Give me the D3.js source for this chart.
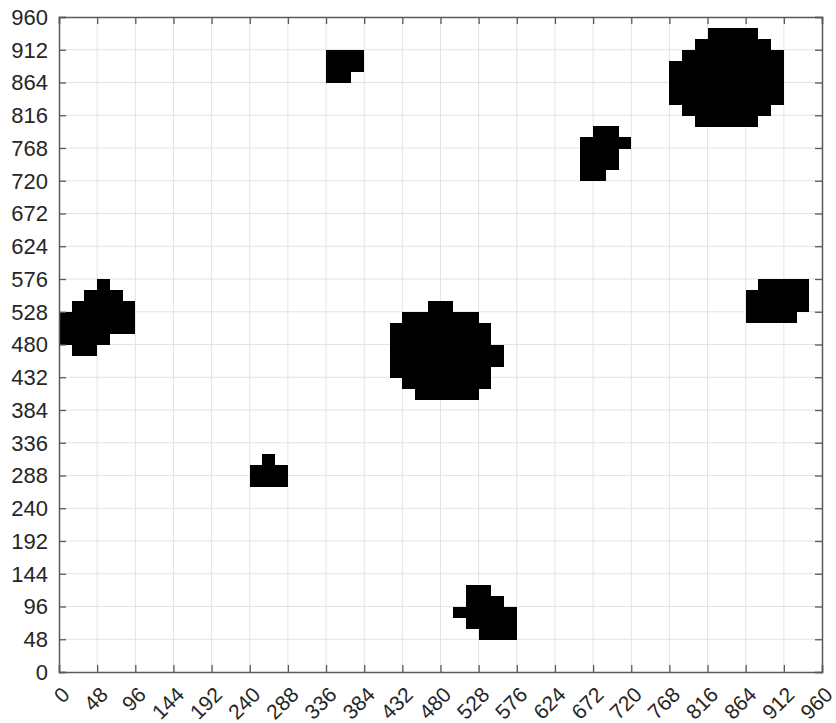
<!DOCTYPE html>
<html>
<head>
<meta charset="utf-8">
<script src="https://cdn.jsdelivr.net/npm/d3@7"></script>
<style>
  body { margin: 0; background: #fff; }
  svg { display: block; font-family: "Liberation Sans", Arial, sans-serif; }
</style>
</head>
<body>
<div id="chart"></div>
<script>
// ticks on both axes
const tickValues = d3.range(0, 961, 48);
const cellSize = 16;

// each blob: filled runs as [rowY, xStart, xEnd) in data units
const blobLeft = [
  [560, 48, 64], [544, 32, 80], [528, 16, 96], [512, 0, 96],
  [496, 0, 96], [480, 0, 64], [464, 16, 48]
];
const blobCenter = [
  [528, 464, 496], [512, 432, 528], [496, 416, 544], [480, 416, 544],
  [464, 416, 560], [448, 416, 560], [432, 416, 544], [416, 432, 544],
  [400, 448, 528]
];
const blobSmall = [[304, 256, 272], [288, 240, 288], [272, 240, 288]];
const blobBottom = [
  [112, 512, 544], [96, 512, 560], [80, 496, 576], [64, 512, 576], [48, 528, 576]
];
const blobTopMid = [[896, 336, 384], [880, 336, 384], [864, 336, 368]];
const blobMidRight = [
  [784, 672, 704], [768, 656, 720], [752, 656, 704], [736, 656, 704], [720, 656, 688]
];
const blobBig = [
  [928, 816, 880], [912, 800, 896], [896, 784, 912], [880, 768, 912],
  [864, 768, 912], [848, 768, 912], [832, 768, 912], [816, 784, 896],
  [800, 800, 880]
];
const blobRight = [[560, 880, 944], [544, 864, 944], [528, 864, 944], [512, 864, 928]];

const blobs = [blobLeft, blobCenter, blobSmall, blobBottom, blobTopMid, blobMidRight, blobBig, blobRight];

const width = 836, height = 723;
const margin = {top: 17, right: 14, bottom: 51, left: 59};

const x = d3.scaleLinear().domain([0, 960]).range([margin.left, width - margin.right]);
const y = d3.scaleLinear().domain([0, 960]).range([height - margin.bottom, margin.top]);

const svg = d3.select("#chart").append("svg")
  .attr("width", width)
  .attr("height", height);

// grid
const grid = svg.append("g").attr("stroke", "#e3e3e3").attr("stroke-width", 1);
grid.selectAll(".gx").data(tickValues.slice(1, -1)).join("line")
  .attr("class", "gx")
  .attr("x1", d => x(d)).attr("x2", d => x(d))
  .attr("y1", y(0)).attr("y2", y(960));
grid.selectAll(".gy").data(tickValues.slice(1, -1)).join("line")
  .attr("class", "gy")
  .attr("y1", d => y(d)).attr("y2", d => y(d))
  .attr("x1", x(0)).attr("x2", x(960));

// blobs
svg.append("g")
  .attr("fill", "#000")
  .attr("shape-rendering", "crispEdges")
  .selectAll("rect")
  .data(blobs.flat())
  .join("rect")
  .attr("x", d => x(d[1]))
  .attr("width", d => x(d[2]) - x(d[1]))
  .attr("y", d => y(d[0] + cellSize))
  .attr("height", d => y(d[0]) - y(d[0] + cellSize) + 0.5);

// axes
const axisColor = "#5a5a5a";
const tickLen = 7;

const axBottom = svg.append("g")
  .attr("transform", `translate(0,${y(0)})`)
  .call(d3.axisBottom(x).tickValues(tickValues).tickSize(-tickLen).tickFormat(""));
const axTop = svg.append("g")
  .attr("transform", `translate(0,${y(960)})`)
  .call(d3.axisTop(x).tickValues(tickValues).tickSize(-tickLen).tickFormat(""));
const axLeft = svg.append("g")
  .attr("transform", `translate(${x(0)},0)`)
  .call(d3.axisLeft(y).tickValues(tickValues).tickSize(-tickLen).tickFormat(""));
const axRight = svg.append("g")
  .attr("transform", `translate(${x(960)},0)`)
  .call(d3.axisRight(y).tickValues(tickValues).tickSize(-tickLen).tickFormat(""));

[axBottom, axTop, axLeft, axRight].forEach(g => {
  g.select(".domain").attr("stroke", axisColor).attr("stroke-width", 1.5);
  g.selectAll(".tick line").attr("stroke", axisColor).attr("stroke-width", 1.3);
});

// y tick labels
svg.append("g")
  .attr("fill", "#262626")
  .attr("font-size", 22)
  .attr("text-anchor", "end")
  .selectAll("text")
  .data(tickValues)
  .join("text")
  .attr("x", x(0) - 11)
  .attr("y", d => y(d))
  .attr("dy", "0.36em")
  .text(d => d);

// x tick labels, rotated
svg.append("g")
  .attr("fill", "#262626")
  .attr("font-size", 21)
  .attr("text-anchor", "end")
  .selectAll("text")
  .data(tickValues)
  .join("text")
  .attr("transform", d => `translate(${x(d) + 12},${y(0) + 24}) rotate(-45)`)
  .text(d => d);
</script>
</body>
</html>
